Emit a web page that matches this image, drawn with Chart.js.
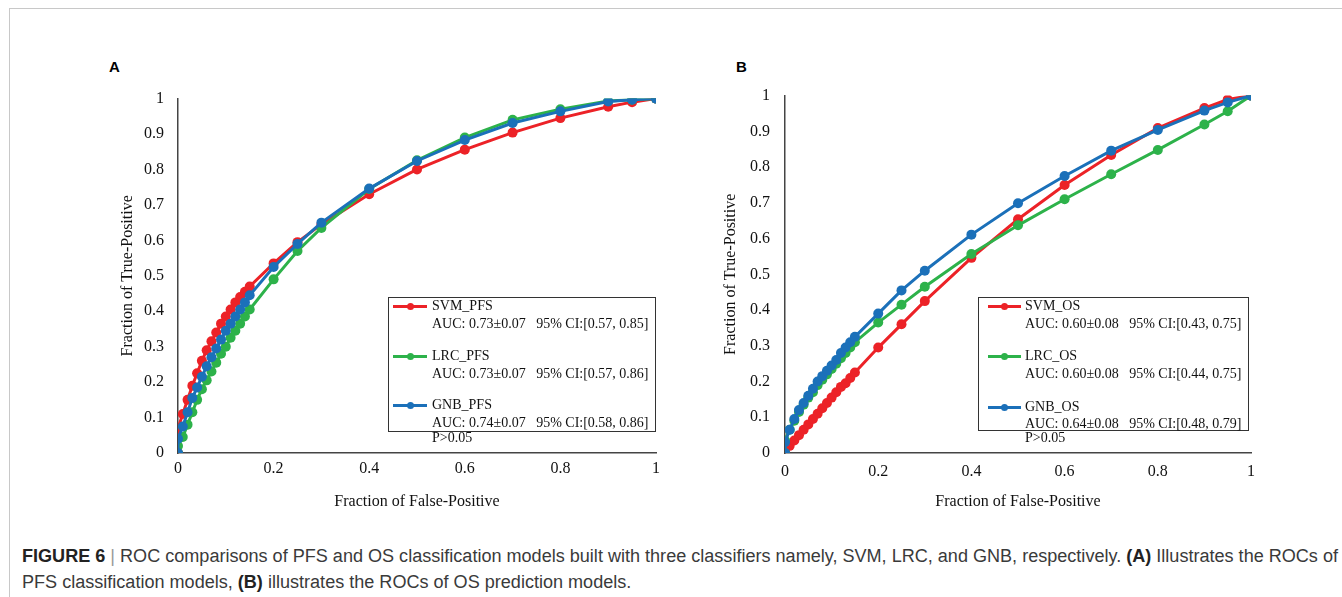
<!DOCTYPE html>
<html>
<head>
<meta charset="utf-8">
<script src="https://cdn.jsdelivr.net/npm/chart.js@4.4.1/dist/chart.umd.min.js"></script>
<style>
  html, body { margin: 0; padding: 0; background: #fff; }
  body { width: 1342px; height: 597px; position: relative; overflow: hidden; font-family: "Liberation Serif", serif; }
  .frame-top { position: absolute; left: 9px; top: 8px; right: 0; height: 0; border-top: 1px solid #c8c8c8; }
  .frame-left { position: absolute; left: 9px; top: 8px; bottom: 0; width: 0; border-left: 1px solid #c8c8c8; }
  .panel-letter { position: absolute; font: bold 15px "Liberation Sans", Arial, sans-serif; color: #000; line-height: 18px; }
  .chart-box { position: absolute; width: 580px; height: 440px; }
  .legend { position: absolute; border: 1px solid #333; box-sizing: border-box; font-size: 14px; color: #111; }
  .legend .row { position: absolute; white-space: pre; line-height: 16px; }
  .legend .swatch { position: absolute; height: 3px; }
  .legend .swatch i { position: absolute; left: 50%; top: 50%; width: 7px; height: 7px; margin: -3.5px 0 0 -3.5px; border-radius: 50%; background: inherit; }
  .caption { position: absolute; left: 22px; top: 543px; font-family: "Liberation Sans", Arial, sans-serif; font-size: 18px; line-height: 26px; color: #3a3a3a; white-space: nowrap; }
  .caption div { transform-origin: 0 50%; }
  .caption b { color: #222; }
  .caption .bar { color: #999; }
</style>
</head>
<body>
<div class="frame-top"></div>
<div class="frame-left"></div>

<div class="panel-letter" style="left:109px; top:58px;">A</div>
<div class="panel-letter" style="left:736px; top:58px;">B</div>

<div class="chart-box" style="left:100px; top:75px;"><canvas id="chartA" width="580" height="440"></canvas></div>
<div class="chart-box" style="left:707px; top:71px;"><canvas id="chartB" width="580" height="440"></canvas></div>

<div class="legend" id="legendA" style="left:388px; top:297px; width:268px; height:135px;"></div>
<div class="legend" id="legendB" style="left:978px; top:297px; width:271px; height:134px;"></div>

<div class="caption" id="caption">
  <div id="capLine1"><b>FIGURE 6</b> <span class="bar">|</span> ROC comparisons of PFS and OS classification models built with three classifiers namely, SVM, LRC, and GNB, respectively. <b>(A)</b> Illustrates the ROCs of</div>
  <div id="capLine2">PFS classification models, <b>(B)</b> illustrates the ROCs of OS prediction models.</div>
</div>

<script>
// False-positive fractions shared by every curve
const fpr = [0, 0, 0.01, 0.02, 0.03, 0.04, 0.05, 0.06, 0.07, 0.08, 0.09, 0.10, 0.11, 0.12, 0.13, 0.14, 0.15,
             0.2, 0.25, 0.3, 0.4, 0.5, 0.6, 0.7, 0.8, 0.9, 0.95, 1];

// Panel A - PFS models
const svmPfs = [0, 0.07, 0.11, 0.15, 0.19, 0.225, 0.26, 0.29, 0.315, 0.34, 0.365, 0.385, 0.405, 0.425, 0.44, 0.455, 0.47,
                0.535, 0.595, 0.645, 0.73, 0.80, 0.856, 0.904, 0.945, 0.977, 0.99, 1];
const lrcPfs = [0, 0.02, 0.045, 0.08, 0.115, 0.15, 0.18, 0.205, 0.23, 0.255, 0.28, 0.30, 0.325, 0.345, 0.365, 0.385, 0.405,
                0.49, 0.57, 0.635, 0.745, 0.826, 0.89, 0.94, 0.97, 0.993, 0.997, 1];
const gnbPfs = [0, 0.04, 0.075, 0.115, 0.155, 0.185, 0.215, 0.245, 0.27, 0.295, 0.32, 0.345, 0.365, 0.385, 0.405, 0.425, 0.445,
                0.525, 0.59, 0.65, 0.746, 0.824, 0.883, 0.931, 0.964, 0.992, 0.997, 1];

// Panel B - OS models
const svmOs = [0, 0.005, 0.02, 0.035, 0.05, 0.065, 0.08, 0.095, 0.11, 0.125, 0.14, 0.155, 0.17, 0.185, 0.195, 0.21, 0.225,
               0.295, 0.36, 0.425, 0.546, 0.654, 0.75, 0.834, 0.909, 0.965, 0.989, 1];
const lrcOs = [0, 0.035, 0.065, 0.09, 0.115, 0.135, 0.155, 0.17, 0.19, 0.205, 0.22, 0.235, 0.25, 0.265, 0.28, 0.295, 0.31,
               0.365, 0.415, 0.465, 0.557, 0.637, 0.71, 0.78, 0.848, 0.919, 0.956, 1];
const gnbOs = [0, 0.03, 0.065, 0.095, 0.12, 0.14, 0.16, 0.18, 0.2, 0.215, 0.23, 0.245, 0.26, 0.28, 0.295, 0.31, 0.325,
               0.39, 0.455, 0.51, 0.611, 0.699, 0.775, 0.846, 0.904, 0.958, 0.981, 1];

// Ticks
const xTicks = [0, 0.2, 0.4, 0.6, 0.8, 1];
const xTickLabels = ['0', '0.2', '0.4', '0.6', '0.8', '1'];
const yTicks = [0, 0.1, 0.2, 0.3, 0.4, 0.5, 0.6, 0.7, 0.8, 0.9, 1];
const yTickLabels = ['0', '0.1', '0.2', '0.3', '0.4', '0.5', '0.6', '0.7', '0.8', '0.9', '1'];

// Legend text
const legendA = [
    ['SVM_PFS', 'AUC: 0.73±0.07   95% CI:[0.57, 0.85]'],
    ['LRC_PFS', 'AUC: 0.73±0.07   95% CI:[0.57, 0.86]'],
    ['GNB_PFS', 'AUC: 0.74±0.07   95% CI:[0.58, 0.86]']
];
const legendB = [
    ['SVM_OS', 'AUC: 0.60±0.08   95% CI:[0.43, 0.75]'],
    ['LRC_OS', 'AUC: 0.60±0.08   95% CI:[0.44, 0.75]'],
    ['GNB_OS', 'AUC: 0.64±0.08   95% CI:[0.48, 0.79]']
];

const RED = '#ec2227';
const GREEN = '#2db24a';
const BLUE = '#1b70b9';
const colors = [RED, GREEN, BLUE];

function toPoints(ys) {
    return fpr.map((x, i) => ({ x: x, y: ys[i] }));
}

function makeDataset(label, ys, color, order) {
    return {
        label: label,
        data: toPoints(ys),
        showLine: true,
        borderColor: color,
        backgroundColor: color,
        borderWidth: 3,
        pointRadius: 5,
        pointBorderWidth: 0,
        pointBackgroundColor: color,
        order: order
    };
}

function makeChart(canvasId, series, opts) {
    const ctx = document.getElementById(canvasId).getContext('2d');
    return new Chart(ctx, {
        type: 'scatter',
        data: {
            datasets: [
                makeDataset(series[0][0], series[0][1], RED, 3),
                makeDataset(series[1][0], series[1][1], GREEN, 2),
                makeDataset(series[2][0], series[2][1], BLUE, 1)
            ]
        },
        options: {
            responsive: false,
            animation: false,
            events: [],
            layout: { autoPadding: false, padding: { top: 13, right: opts.rightPad, left: 0, bottom: 0 } },
            plugins: { legend: { display: false }, tooltip: { enabled: false } },
            scales: {
                x: {
                    type: 'linear', min: 0, max: 1,
                    grid: { display: false, drawTicks: false },
                    border: { display: true, color: '#444', width: 1.5 },
                    afterBuildTicks: s => { s.ticks = xTicks.map(v => ({ value: v })); },
                    afterFit: s => { s.height = opts.xHeight; },
                    ticks: {
                        color: '#111', padding: opts.xTickPad,
                        font: { family: 'Liberation Serif', size: 16 },
                        maxRotation: 0,
                        callback: (v, i) => xTickLabels[i]
                    },
                    title: {
                        display: true, text: 'Fraction of False-Positive', color: '#111',
                        font: { family: 'Liberation Serif', size: 16 },
                        padding: { top: 0, bottom: opts.xTitlePad }
                    }
                },
                y: {
                    type: 'linear', min: 0, max: 1,
                    grid: { display: false, drawTicks: false },
                    border: { display: true, color: '#444', width: 1.5 },
                    afterBuildTicks: s => { s.ticks = yTicks.map(v => ({ value: v })); },
                    afterFit: s => { s.width = 78; },
                    ticks: {
                        color: '#111', padding: opts.yTickPad,
                        font: { family: 'Liberation Serif', size: 16 },
                        callback: (v, i) => yTickLabels[i]
                    },
                    title: {
                        display: true, text: 'Fraction of True-Positive', color: '#111',
                        font: { family: 'Liberation Serif', size: 16 },
                        padding: { top: opts.yTitlePad, bottom: 0 }
                    }
                }
            }
        }
    });
}

function buildLegend(el, entries, layout) {
    entries.forEach((entry, i) => {
        const sw = document.createElement('div');
        sw.className = 'swatch';
        sw.style.left = layout.lineLeft + 'px';
        sw.style.width = layout.lineWidth + 'px';
        sw.style.top = (layout.rows[i][0] - 1.5) + 'px';
        sw.style.background = colors[i];
        sw.appendChild(document.createElement('i'));
        el.appendChild(sw);

        entry.forEach((txt, j) => {
            const row = document.createElement('div');
            row.className = 'row';
            row.style.left = layout.textLeft + 'px';
            row.style.top = (layout.rows[i][j] - 8) + 'px';
            row.textContent = txt;
            el.appendChild(row);
        });
    });
    const p = document.createElement('div');
    p.className = 'row';
    p.style.left = layout.textLeft + 'px';
    p.style.top = (layout.pRow - 8) + 'px';
    p.textContent = 'P>0.05';
    el.appendChild(p);
}

makeChart('chartA', [['SVM_PFS', svmPfs], ['LRC_PFS', lrcPfs], ['GNB_PFS', gnbPfs]],
    { rightPad: 24, xHeight: 62, xTickPad: 6, xTitlePad: 4, yTickPad: 14, yTitlePad: 18 });
makeChart('chartB', [['SVM_OS', svmOs], ['LRC_OS', lrcOs], ['GNB_OS', gnbOs]],
    { rightPad: 36, xHeight: 58, xTickPad: 9, xTitlePad: 0, yTickPad: 15, yTitlePad: 14 });

buildLegend(document.getElementById('legendA'), legendA,
    { lineLeft: 4, lineWidth: 34, textLeft: 43, rows: [[8, 26], [58, 76], [107, 125]], pRow: 140 });
buildLegend(document.getElementById('legendB'), legendB,
    { lineLeft: 9, lineWidth: 33, textLeft: 46, rows: [[8, 26], [58, 76], [109, 126]], pRow: 140 });

// Squeeze caption horizontally so the first line spans the reference width
function fitCaption() {
    const l1 = document.getElementById('capLine1');
    const l2 = document.getElementById('capLine2');
    l1.style.display = 'inline-block';
    const w = l1.getBoundingClientRect().width;
    const k = 1316 / w;
    l1.style.display = 'block';
    l1.style.transform = 'scaleX(' + k + ')';
    l2.style.transform = 'scaleX(' + k + ')';
}
fitCaption();
</script>
</body>
</html>
